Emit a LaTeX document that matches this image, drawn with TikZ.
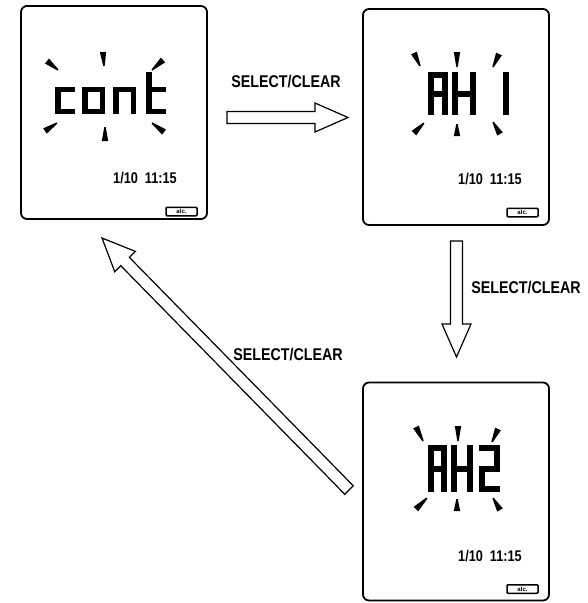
\documentclass[tikz,border=0pt]{standalone}
\usepackage{fontspec}
\setmainfont{Liberation Sans}
\usetikzlibrary{calc}

% --- seven-segment glyph parts: #1 left, #2 right, #3 top, #4 middle, #5 bottom
\def\lcdt{6}
\newcommand{\lcdsega}[5]{\fill (#1,#3) rectangle (#2,#3+\lcdt);}
\newcommand{\lcdsegb}[5]{\fill (#2-\lcdt,#3) rectangle (#2,#4);}
\newcommand{\lcdsegc}[5]{\fill (#2-\lcdt,#4) rectangle (#2,#5);}
\newcommand{\lcdsegd}[5]{\fill (#1,#5-\lcdt) rectangle (#2,#5);}
\newcommand{\lcdsege}[5]{\fill (#1,#4) rectangle (#1+\lcdt,#5);}
\newcommand{\lcdsegf}[5]{\fill (#1,#3) rectangle (#1+\lcdt,#4);}
\newcommand{\lcdsegg}[5]{\fill (#1,#4-\lcdt/2) rectangle (#2,#4+\lcdt/2);}
\newcommand{\lcdglyph}[6]{%
  \foreach \sg in {#6}{\csname lcdseg\sg\endcsname{#1}{#2}{#3}{#4}{#5}}}

% --- blinking marks around the display text: wide at the outer end
\newcommand{\lcdray}[2]{%
  \fill ($#1!3.2pt!90:#2$) -- ($#2!0.7pt!-90:#1$) -- ($#2!0.7pt!90:#1$) -- ($#1!3.2pt!-90:#2$) -- cycle;}

% --- hollow block arrow from a tail coordinate to a tip coordinate
\newcommand{\blockarrow}[2]{%
  \coordinate (hb) at ($(#2)!33pt!(#1)$);
  \draw[blockarrow] ($(#1)!6pt!90:(#2)$) -- ($(hb)!6pt!90:(#2)$)
    -- ($(hb)!14.5pt!90:(#2)$) -- (#2) -- ($(hb)!14.5pt!-90:(#2)$)
    -- ($(hb)!6pt!-90:(#2)$) -- ($(#1)!6pt!-90:(#2)$) -- cycle;}

\begin{document}
\begin{tikzpicture}[x=1pt,y=-1pt,
  screen/.style={draw, line width=1.8pt, rounded corners=6pt, inner sep=0pt},
  lcdkey/.style={draw, line width=1.5pt, rounded corners=1pt, minimum width=31pt,
    minimum height=8.5pt, inner sep=0pt, font=\fontsize{6}{6}\selectfont\bfseries},
  datetxt/.style={inner sep=0pt, font=\fontsize{15.5}{15.5}\selectfont\bfseries, xscale=0.82},
  lbl/.style={inner sep=0pt, font=\fontsize{17}{17}\selectfont\bfseries, xscale=0.84},
  blockarrow/.style={draw, line width=1.2pt, fill=white, line join=miter}]

\fill[white] (0,0) rectangle (587,603);
\useasboundingbox (0,0) rectangle (587,603);

% screens
\node[screen, minimum width=186pt, minimum height=213pt] (s1) at (114,112.5) {};
\node[screen, minimum width=186pt, minimum height=216pt] (s2) at (456,117) {};
\node[screen, minimum width=186pt, minimum height=218pt] (s3) at (456,491.5) {};

% screen 1: "cont"
\def\lcdt{5.5}
\lcdglyph{55}{75}{72}{89.5}{114}{g,e,d}
\lcdglyph{82}{105}{72}{89.5}{114}{g,c,d,e}
\lcdglyph{113}{136}{72}{89.5}{114}{g,c,e}
\lcdglyph{146}{166}{72}{89.5}{114}{f,e,g,d}
\lcdray{(103,52)}{(104,66)}
\lcdray{(47,61)}{(58,70)}
\lcdray{(163,60)}{(152,70)}
\lcdray{(45,131)}{(57,123)}
\lcdray{(105,141)}{(105,127)}
\lcdray{(164,132)}{(152,123)}

% screen 2: "AH1"
\def\lcdt{6}
\lcdglyph{428}{448}{72}{93.5}{115}{a,b,c,e,f,g}
\lcdglyph{452}{476}{72}{93.5}{115}{b,c,e,f,g}
\lcdglyph{486}{509}{72}{93.5}{115}{b,c}
\lcdray{(414,53)}{(420,66)}
\lcdray{(457,52)}{(457,67)}
\lcdray{(499,54)}{(493,67)}
\lcdray{(414,133)}{(424,123)}
\lcdray{(457,136)}{(457,124)}
\lcdray{(500,134)}{(493,122)}

% screen 3: "AH2"
\lcdglyph{428}{447}{445}{468.5}{492}{a,b,c,e,f,g}
\lcdglyph{451}{473}{445}{468.5}{492}{b,c,e,f,g}
\lcdglyph{479}{500}{445}{468.5}{492}{a,b,g,e,d}
\lcdray{(416,427)}{(423,441)}
\lcdray{(458,426)}{(458,441)}
\lcdray{(498,429)}{(492,442)}
\lcdray{(416,509)}{(427,498)}
\lcdray{(457,511)}{(457,499)}
\lcdray{(500,510)}{(493,498)}

% clock lines
\node[datetxt] (d1) at (145,178) {1/10\ \ 11:15};
\node[datetxt] (d2) at (490,179) {1/10\ \ 11:15};
\node[datetxt] (d3) at (490,556) {1/10\ \ 11:15};

% key legends
\node[lcdkey] (k1) at (181.5,211.5) {alc.};
\node[lcdkey] (k2) at (522.5,212.5) {alc.};
\node[lcdkey] (k3) at (522.5,589) {alc.};

% transitions
\coordinate (t1a) at (227,117.5);
\coordinate (t1b) at (348,117.5);
\coordinate (t2a) at (456.5,241);
\coordinate (t2b) at (456.5,357);
\coordinate (t3a) at (349,490);
\coordinate (t3b) at (102,238);
\blockarrow{t1a}{t1b}
\blockarrow{t2a}{t2b}
\blockarrow{t3a}{t3b}

\node[lbl] (l1) at (286,82) {SELECT/CLEAR};
\node[lbl] (l2) at (526,288) {SELECT/CLEAR};
\node[lbl] (l3) at (288,355) {SELECT/CLEAR};
\end{tikzpicture}
\end{document}
